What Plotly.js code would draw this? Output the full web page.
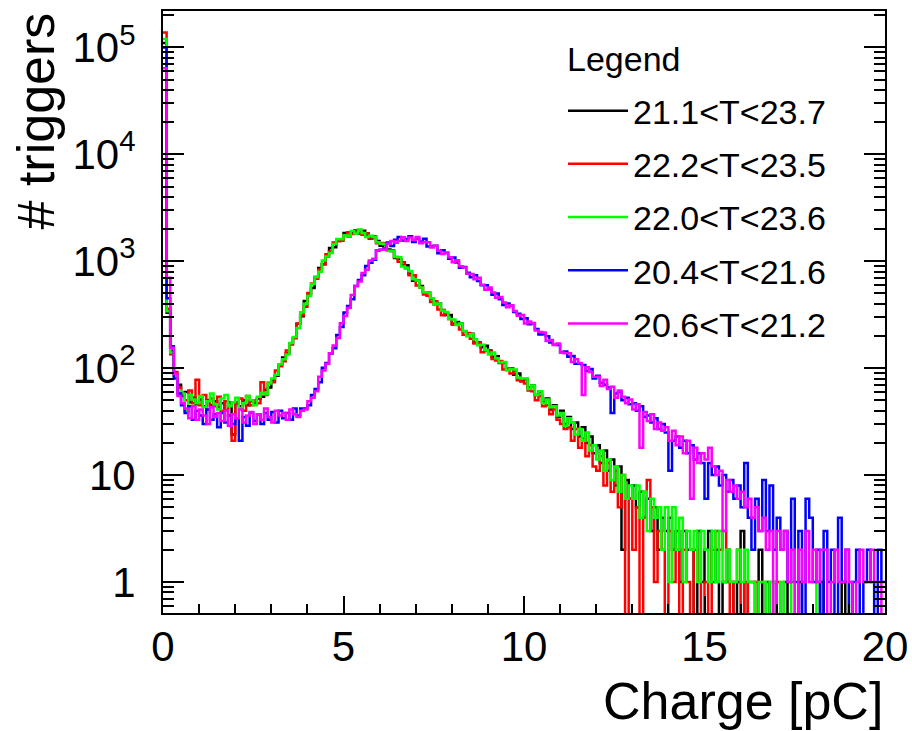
<!DOCTYPE html>
<html>
<head>
<meta charset="utf-8">
<script src="https://cdn.plot.ly/plotly-3.0.1.min.js"></script>
<style>
  html, body { margin: 0; padding: 0; background: #ffffff; }
  #chart { width: 912px; height: 731px; }
</style>
</head>
<body>
<div id="chart"></div>
<script>
// ---- Data (counts per 0.1 pC bin, bins start at 0) ----
const BIN_WIDTH = 0.1;           // pC
const X_MAX = 20;                // pC

const seriesNames = ['21.1&lt;T&lt;23.7', '22.2&lt;T&lt;23.5', '22.0&lt;T&lt;23.6', '20.4&lt;T&lt;21.6', '20.6&lt;T&lt;21.2'];
const seriesColors = ['#000000', '#ff0000', '#00ff00', '#0000ff', '#ff00ff'];

const counts_T211_237 = [
  110000,330,145,88,70,55,60,48,53,46,
  51,44,50,45,49,43,47,40,48,24,
  47,44,50,45,49,47,52,54,63,66,
  77,85,107,126,137,167,192,260,306,424,
  490,561,714,863,941,1109,1334,1354,1586,1607,
  1834,1710,1869,1945,1814,1932,1744,1632,1685,1550,
  1397,1463,1287,1246,1075,1051,912,920,764,658,
  662,586,514,510,446,394,403,350,315,315,
  260,270,262,221,212,210,173,174,157,162,
  146,128,129,112,113,98,100,87,89,76,
  79,66,69,56,60,48,52,41,45,35,
  40,30,35,27,31,23,28,20,23,16,
  19,13,17,11,14,8,12,2,9,6,
  8,5,7,4,6,3,5,2,4,3,
  4,2,3,1,3,2,2,0,3,1,
  2,3,1,2,0,1,2,1,0,1,
  3,0,1,1,0,2,0,1,0,1,
  0,0,1,0,0,0,1,0,0,0,
  0,0,1,0,0,0,0,0,1,0,
  0,0,0,0,0,0,0,0,0,0
];

const counts_T222_235 = [
  138000,360,135,92,66,57,50,62,47,78,
  45,56,41,52,44,54,40,49,36,21,
  48,52,40,55,45,50,47,74,56,73,
  74,95,104,116,146,168,192,262,312,376,
  505,620,686,838,931,1165,1232,1495,1540,1558,
  1765,1872,1795,1851,1964,1766,1833,1666,1717,1473,
  1485,1435,1261,1271,1098,989,978,860,741,742,
  593,568,488,475,415,422,354,313,324,288,
  255,259,230,206,213,188,170,171,141,147,
  143,122,118,117,97,99,89,93,77,75,
  72,62,61,50,55,44,45,37,41,33,
  30,27,28,21,27,18,22,15,19,12,
  11,15,8,13,7,11,5,10,0,6,
  2,5,0,4,9,5,1,3,2,0,
  3,1,2,0,2,1,0,2,1,0,
  1,0,2,3,2,3,1,0,1,2,
  0,1,0,0,1,0,0,0,0,0,
  1,0,0,0,0,0,0,0,0,0,
  0,0,0,0,0,0,0,0,0,0,
  0,0,0,0,0,0,0,0,0,0
];

const counts_T220_236 = [
  120000,340,140,85,62,58,40,56,51,47,
  55,43,49,58,46,41,52,56,44,48,
  53,42,47,55,50,45,54,59,57,72,
  80,87,109,121,134,172,196,238,334,400,
  475,614,714,797,1019,1109,1194,1452,1617,1607,
  1747,1728,1924,1814,1982,1840,1691,1734,1685,1504,
  1455,1449,1248,1246,1098,1092,893,869,811,679,
  662,568,514,510,450,394,403,347,335,288,
  286,254,262,223,199,208,186,164,166,149,
  134,140,124,113,114,95,99,97,82,80,
  80,64,69,56,61,47,51,43,44,36,
  38,29,34,31,24,27,21,25,17,19,
  14,17,11,14,9,12,7,10,6,8,
  6,8,4,7,3,6,4,5,2,5,
  1,5,2,4,1,3,2,3,1,3,
  2,1,3,1,3,1,2,1,1,2,
  1,2,1,1,0,1,1,0,1,1,
  0,1,0,0,1,0,0,0,0,0,
  0,1,0,0,0,0,0,0,0,0,
  1,0,0,0,0,0,0,0,0,0
];

const counts_T204_216 = [
  100000,450,160,80,58,45,38,44,33,40,
  36,30,41,33,37,28,38,31,36,30,
  34,21,35,29,38,32,37,30,38,33,
  39,31,40,34,38,33,42,36,42,42,
  45,56,64,74,101,112,137,154,204,243,
  332,382,442,588,667,739,905,970,1036,1261,
  1280,1319,1502,1386,1586,1685,1552,1615,1717,1513,
  1622,1519,1620,1378,1376,1397,1190,1269,1195,1057,
  1082,975,869,884,779,708,742,655,597,598,
  551,485,499,441,390,402,383,336,323,288,
  293,257,263,232,207,208,199,174,166,165,
  141,143,128,130,110,110,107,94,98,80,
  85,73,70,66,38,58,60,50,53,46,
  47,40,44,35,36,31,34,27,30,25,
  11,21,23,18,21,16,19,14,16,13,
  6,13,10,12,8,10,7,9,6,8,
  5,13,4,2,6,3,9,3,8,2,
  4,2,3,1,6,1,3,0,6,4,
  1,2,0,3,1,2,0,4,1,2,
  0,1,2,0,1,2,1,0,2,1
];

const counts_T206_212 = [
  64000,700,155,88,55,47,42,34,44,33,
  41,36,30,43,35,38,32,40,29,37,
  34,41,31,36,39,30,37,33,42,35,
  31,40,36,38,33,41,37,35,40,41,
  49,53,61,83,95,110,138,163,192,263,
  307,367,484,588,647,778,835,1019,1057,1261,
  1280,1292,1459,1550,1494,1559,1680,1550,1669,1578,
  1685,1473,1515,1508,1348,1397,1254,1171,1206,1090,
  979,1023,896,876,763,760,679,701,603,541,
  567,510,456,463,411,371,387,343,310,315,
  262,273,265,225,218,216,180,183,165,170,
  140,138,138,114,121,112,56,102,92,83,
  83,68,78,64,67,53,62,54,47,51,
  41,46,18,39,32,37,27,31,26,28,
  21,26,19,23,16,21,6,18,13,16,
  14,18,12,10,11,3,9,7,8,6,
  7,5,6,4,5,3,4,2,3,0,
  3,2,3,1,2,0,2,1,3,1,
  2,1,2,2,0,1,2,1,1,2,
  1,0,1,2,1,1,2,1,1,0
];

const seriesCounts = [counts_T211_237, counts_T222_235, counts_T220_236, counts_T204_216, counts_T206_212];

// Axis tick labels and text
const yTickVals = [1, 10, 100, 1000, 10000, 100000];
const yTickText = ['1', '10', '10<sup>2</sup>', '10<sup>3</sup>', '10<sup>4</sup>', '10<sup>5</sup>'];
const xTickVals = [0, 5, 10, 15, 20];
const xTitle = 'Charge [pC]';
const yTitle = '# triggers';
const legendHeader = 'Legend';

// ---- Build traces (ROOT-style step histograms) ----
const EMPTY_BIN_LEVEL = 1e-3; // empty bins drawn down past the axis floor, like ROOT
const FONT = 'Liberation Sans, Arial, Helvetica, sans-serif';

const traces = seriesCounts.map((counts, k) => {
  const x = [];
  const y = [];
  counts.forEach((c, i) => {
    x.push(+(i * BIN_WIDTH).toFixed(4));
    y.push(c > 0 ? c : EMPTY_BIN_LEVEL);
  });
  x.push(X_MAX);
  y.push(y[y.length - 1]);
  return {
    type: 'scatter',
    mode: 'lines',
    x: x,
    y: y,
    name: seriesNames[k],
    legendgroup: 'g' + k,
    line: { color: seriesColors[k], width: 2.5, shape: 'hv' },
    hoverinfo: 'x+y+name'
  };
});

// minor ticks
const yMinor = [];
for (let e = -1; e <= 5; e++) {
  for (let m = 2; m <= 9; m++) {
    const v = m * Math.pow(10, e);
    if (v > 0.5 && v < 2.2e5) yMinor.push(v);
  }
}
const xMinor = [];
for (let v = 1; v < X_MAX; v++) if (v % 5 !== 0) xMinor.push(v);

const layout = {
  width: 912,
  height: 731,
  margin: { l: 163, r: 27, t: 11, b: 118, pad: 0 },
  paper_bgcolor: '#ffffff',
  plot_bgcolor: '#ffffff',
  font: { family: FONT, color: '#000000' },
  showlegend: true,
  xaxis: {
    range: [0, X_MAX],
    tickmode: 'array',
    tickvals: xTickVals,
    ticks: 'inside',
    ticklen: 17,
    tickwidth: 2,
    tickcolor: '#000000',
    showline: true,
    linewidth: 2,
    linecolor: '#000000',
    mirror: true,
    showgrid: false,
    zeroline: false,
    tickfont: { family: FONT, size: 42, color: '#000000' },
    ticklabelstandoff: -4,
    minor: { tickmode: 'array', tickvals: xMinor, ticks: 'inside', ticklen: 9, tickwidth: 2, tickcolor: '#000000', showgrid: false }
  },
  yaxis: {
    type: 'log',
    range: [-0.29, 5.341],
    tickmode: 'array',
    tickvals: yTickVals,
    ticktext: yTickText,
    ticks: 'inside',
    ticklen: 21,
    tickwidth: 2,
    tickcolor: '#000000',
    showline: true,
    linewidth: 2,
    linecolor: '#000000',
    mirror: 'ticks',
    showgrid: false,
    zeroline: false,
    tickfont: { family: FONT, size: 42, color: '#000000' },
    ticklabelstandoff: 17,
    minor: { tickmode: 'array', tickvals: yMinor, ticks: 'inside', ticklen: 11, tickwidth: 2, tickcolor: '#000000', showgrid: false }
  },
  legend: {
    x: 0.554,
    y: 0.882,
    xanchor: 'left',
    yanchor: 'top',
    bgcolor: 'rgba(0,0,0,0)',
    borderwidth: 0,
    font: { family: FONT, size: 34, color: '#000000' },
    tracegroupgap: 6,
    itemwidth: 60
  },
  annotations: [
    {
      text: legendHeader,
      xref: 'paper', yref: 'paper',
      x: 0.5568, y: 0.920,
      xanchor: 'left', yanchor: 'middle',
      showarrow: false,
      font: { family: FONT, size: 34, color: '#000000' }
    },
    {
      text: yTitle,
      xref: 'paper', yref: 'paper',
      x: -0.1759, y: 0.8165,
      xanchor: 'center', yanchor: 'middle',
      textangle: -90,
      showarrow: false,
      font: { family: FONT, size: 52, color: '#000000' }
    },
    {
      text: xTitle,
      xref: 'paper', yref: 'paper',
      x: 1, y: -0.146,
      xanchor: 'right', yanchor: 'middle',
      showarrow: false,
      font: { family: FONT, size: 52, color: '#000000' }
    }
  ]
};

Plotly.newPlot('chart', traces, layout, { displayModeBar: false, staticPlot: true });
</script>
</body>
</html>
